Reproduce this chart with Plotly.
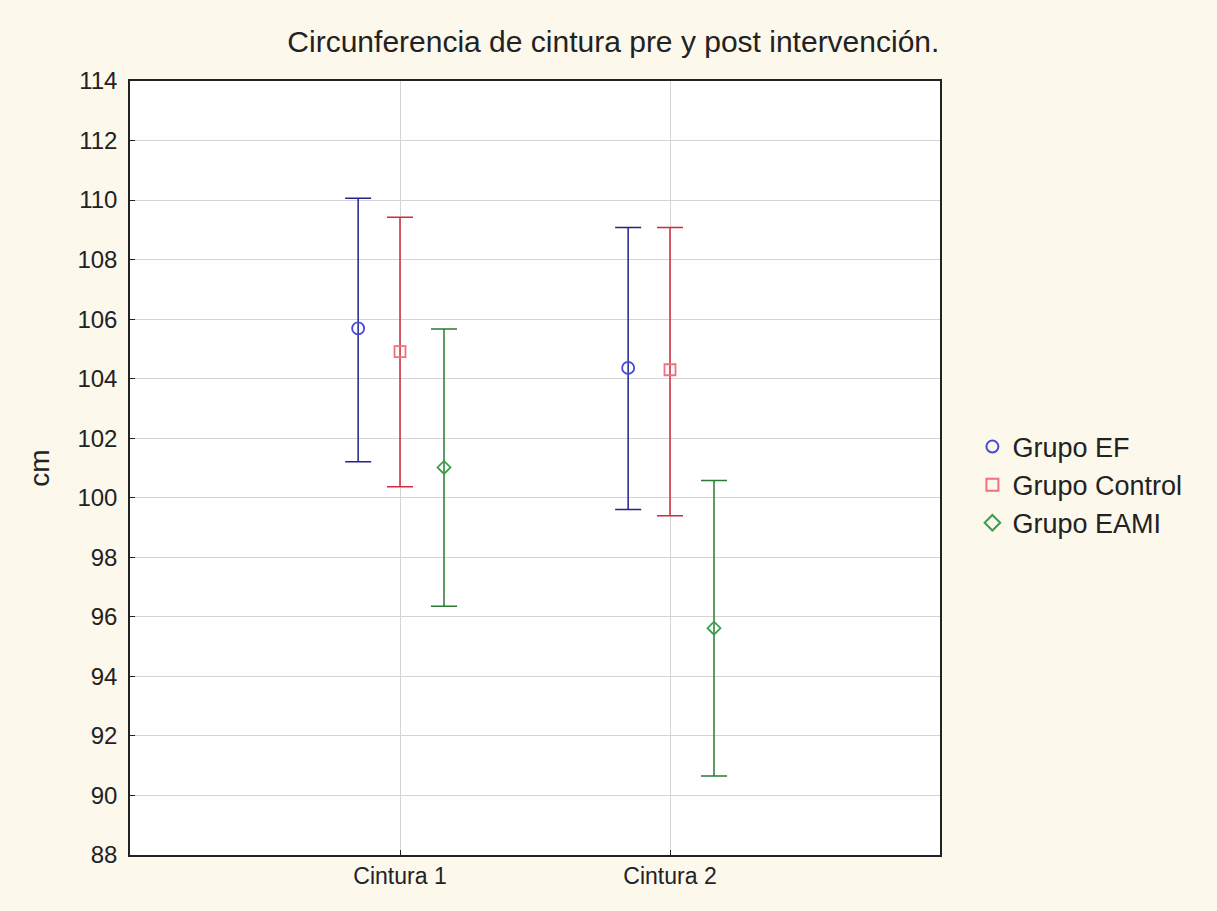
import plotly.graph_objects as go

categories = ["Cintura 1", "Cintura 2"]
groups = ["Grupo EF", "Grupo Control", "Grupo EAMI"]
means = {
    "Grupo EF": [105.69, 104.36],
    "Grupo Control": [104.91, 104.30],
    "Grupo EAMI": [101.02, 95.62],
}
lower = {
    "Grupo EF": [101.21, 99.61],
    "Grupo Control": [100.37, 99.40],
    "Grupo EAMI": [96.36, 90.65],
}
upper = {
    "Grupo EF": [110.06, 109.08],
    "Grupo Control": [109.42, 109.08],
    "Grupo EAMI": [105.67, 100.58],
}
y_ticks = list(range(88, 115, 2))

bar_colors = {"Grupo EF": "#22228a", "Grupo Control": "#d02a3c", "Grupo EAMI": "#2a7a32"}
marker_colors = {"Grupo EF": "#4848e0", "Grupo Control": "#f07080", "Grupo EAMI": "#3aa048"}
symbols = {"Grupo EF": "circle-open", "Grupo Control": "square-open", "Grupo EAMI": "diamond-open"}
marker_sizes = {"Grupo EF": 12, "Grupo Control": 11, "Grupo EAMI": 10}
offsets = {"Grupo EF": -0.155, "Grupo Control": 0.0, "Grupo EAMI": 0.163}

FONT = "Liberation Sans, Arial, sans-serif"

fig = go.Figure()
for g in groups:
    xs = [i + 1 + offsets[g] for i in range(len(categories))]
    m = means[g]
    fig.add_trace(go.Scatter(
        x=xs, y=m, mode="markers", name=g,
        marker=dict(symbol=symbols[g], size=marker_sizes[g], color=marker_colors[g],
                    line=dict(width=1.8, color=marker_colors[g])),
        error_y=dict(type="data", symmetric=False,
                     array=[u - v for u, v in zip(upper[g], m)],
                     arrayminus=[v - l for v, l in zip(m, lower[g])],
                     color=bar_colors[g], thickness=1.5, width=13),
    ))

fig.update_layout(
    width=1217, height=911,
    paper_bgcolor="#fdf8ec", plot_bgcolor="#ffffff",
    margin=dict(l=130, r=277, t=81, b=56),
    title=dict(text="Circunferencia de cintura pre y post intervención.", x=0.504, xanchor="center",
               y=0.954, yanchor="middle", font=dict(family=FONT, size=30, color="#222222")),
    font=dict(family=FONT, color="#222222"),
    showlegend=True,
    legend=dict(x=1.04, y=0.478, xanchor="left", yanchor="middle", bgcolor="rgba(0,0,0,0)",
                font=dict(size=27, color="#222222"), itemsizing="constant", tracegroupgap=0),
)
fig.update_xaxes(range=[0, 3], tickmode="array", tickvals=[1, 2], ticktext=categories,
                 showgrid=True, gridcolor="#d4d4d4", gridwidth=1,
                 showline=True, linecolor="#222222", linewidth=1.5, mirror=True,
                 ticks="inside", ticklen=5, tickcolor="#222222", zeroline=False,
                 tickfont=dict(size=23))
fig.update_yaxes(range=[88, 114], tickmode="array", tickvals=y_ticks,
                 showgrid=True, gridcolor="#d4d4d4", gridwidth=1,
                 showline=True, linecolor="#222222", linewidth=1.5, mirror=True,
                 ticks="inside", ticklen=5, tickcolor="#222222", zeroline=False,
                 ticklabelstandoff=6,
                 tickfont=dict(size=24), title=dict(text="cm", font=dict(size=28), standoff=20))

fig.write_html("out.html", config={"displayModeBar": False},
               post_script="document.body.style.margin='0';")
